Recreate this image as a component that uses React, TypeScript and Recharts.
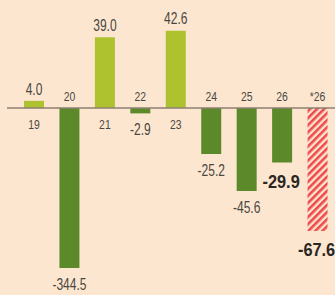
import { BarChart, Bar, XAxis, YAxis, Cell, LabelList, ReferenceLine } from "recharts";

// fiscal years, "*26" is the forecast
const categories = ["19", "20", "21", "22", "23", "24", "25", "26", "*26"];
const values = [4.0, -344.5, 39.0, -2.9, 42.6, -25.2, -45.6, -29.9, -67.6];
const emphasis = [false, false, false, false, false, false, false, true, true];
const forecast = [false, false, false, false, false, false, false, false, true];

// the 20 bar is cut off at the bottom of the chart (broken scale)
const Y_MIN = -88;
const Y_MAX = 54;

const COLORS = {
  bg: "#fde6d0",
  up: "#adc22e",
  down: "#5c8a2b",
  forecast: "#ef4a4a",
  axis: "#8c7f70",
  text: "#4a4640",
  bold: "#2a2622",
};

const FONT = "'Liberation Sans', Arial, sans-serif";

const data = categories.map((cat, i) => ({
  i,
  cat,
  shown: Math.max(values[i], Y_MIN),
}));

// condensed text: the source uses a narrow gothic face
function NarrowText({ x, y, size, bold, squeeze, fill, children }: any) {
  return (
    <text
      transform={`translate(${x},${y}) scale(${squeeze},1)`}
      x={0}
      y={0}
      textAnchor="middle"
      dominantBaseline="central"
      fontFamily={FONT}
      fontSize={size}
      fontWeight={bold ? 700 : 400}
      fill={fill}
    >
      {children}
    </text>
  );
}

function ValueLabel(props: any) {
  const x = Number(props.x);
  const y = Number(props.y);
  const w = Number(props.width);
  const h = Number(props.height);
  const i = Number(props.value);
  const v = values[i];
  const top = Math.min(y, y + h);
  const bottom = Math.max(y, y + h);
  const bold = emphasis[i];
  const ty = v >= 0 ? top - 12 : bottom + (bold ? 19 : 16);
  return (
    <NarrowText
      x={x + w / 2 - (bold ? 1 : 0)}
      y={ty}
      size={bold ? 19 : 16}
      bold={bold}
      squeeze={bold ? 0.86 : 0.75}
      fill={bold ? COLORS.bold : COLORS.text}
    >
      {v.toFixed(1)}
    </NarrowText>
  );
}

function CategoryLabel(props: any) {
  const x = Number(props.x);
  const y = Number(props.y);
  const w = Number(props.width);
  const h = Number(props.height);
  const i = Number(props.value);
  const v = values[i];
  const top = Math.min(y, y + h);
  const bottom = Math.max(y, y + h);
  const ty = v >= 0 ? bottom + 16 : top - 12;
  return (
    <NarrowText x={x + w / 2} y={ty} size={13} bold={false} squeeze={0.8} fill={COLORS.text}>
      {categories[i]}
    </NarrowText>
  );
}

export default function App() {
  return (
    <div style={{ position: "absolute", left: 0, top: 0, width: 335, height: 295, background: COLORS.bg, overflow: "hidden" }}>
      <BarChart width={335} height={295} data={data} margin={{ top: 10, right: 0, bottom: 27, left: 7 }}>
        <defs>
          <pattern id="hatch" patternUnits="userSpaceOnUse" width={5} height={5} patternTransform="rotate(45)">
            <rect x={0} y={0} width={2.6} height={5} fill={COLORS.forecast} />
          </pattern>
        </defs>
        <XAxis dataKey="cat" hide padding={{ left: 9, right: 0 }} />
        <YAxis hide domain={[Y_MIN, Y_MAX]} allowDataOverflow />
        <ReferenceLine y={0} stroke={COLORS.axis} strokeWidth={1.5} />
        <Bar dataKey="shown" barSize={20} isAnimationActive={false}>
          {data.map((d, i) => (
            <Cell
              key={`cell-${i}`}
              fill={forecast[i] ? "url(#hatch)" : values[i] >= 0 ? COLORS.up : COLORS.down}
            />
          ))}
          <LabelList dataKey="i" content={ValueLabel} />
          <LabelList dataKey="i" content={CategoryLabel} />
        </Bar>
      </BarChart>
    </div>
  );
}
